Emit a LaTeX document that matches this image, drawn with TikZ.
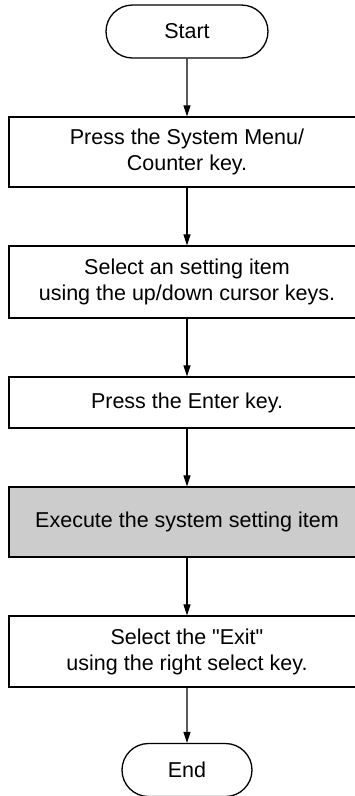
\documentclass[tikz,border=0pt]{standalone}
\usepackage{fontspec}
\newfontfamily\flowfont{Liberation Sans}
\usetikzlibrary{arrows.meta, shapes.misc}

\tikzset{
  termbox/.style={draw, line width=1.3pt, rounded rectangle, minimum height=53pt, inner sep=0pt, font=\flowfont\fontsize{21.5}{26}\selectfont},
  stepbox/.style={draw, line width=1.3pt, rectangle, minimum width=356pt, inner sep=0pt, align=center, font=\flowfont\fontsize{21.5}{26}\selectfont},
  flow/.style={line width=1.2pt, -{Triangle[length=11pt, width=7pt]}}
}

\begin{document}
\begin{tikzpicture}[x=1pt, y=1pt]
  \clip (0,0) rectangle (355,-796);

  % start / end
  \node[termbox, minimum width=162pt] (start) at (187,-31.5) {Start};
  \node[termbox, minimum width=130pt] (end) at (187,-770) {End};

  % steps
  \node[stepbox, minimum height=70pt] (menu) at (187,-152) {Press the System Menu/\\Counter key.};
  \node[stepbox, minimum height=72pt] (select) at (187,-282) {Select an setting item\\using the up/down cursor keys.};
  \node[stepbox, minimum height=51pt] (enter) at (187,-402.5) {Press the Enter key.};
  \node[stepbox, minimum height=70pt, fill=black!20] (exec) at (187,-522) {Execute the system setting item};
  \node[stepbox, minimum height=71pt] (exit) at (187,-651.5) {Select the "Exit"\\using the right select key.};

  % connectors
  \draw[flow] (start) -- (menu);
  \draw[flow] (menu) -- (select);
  \draw[flow] (select) -- (enter);
  \draw[flow] (enter) -- (exec);
  \draw[flow] (exec) -- (exit);
  \draw[flow] (exit) -- (end);
\end{tikzpicture}
\end{document}
